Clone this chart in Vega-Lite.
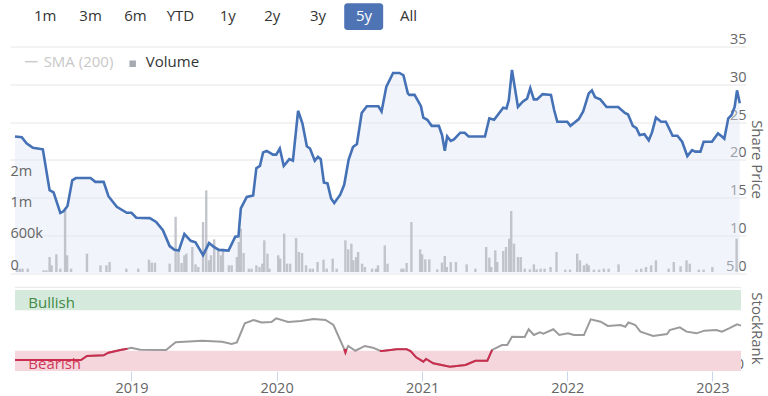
{
  "$schema": "https://vega.github.io/schema/vega-lite/v6.json",
  "width": 736,
  "height": 324.5,
  "autosize": {"type": "none"},
  "padding": {"left": 10, "top": 46.5, "right": 22, "bottom": 25},
  "background": "white",
  "config": {"view": {"stroke": null}, "font": "Open Sans"},
  "datasets": {
    "price": [
      {"d":"2018-03-14","p":23.1},{"d":"2018-03-31","p":23.0},{"d":"2018-04-12","p":22.2},{"d":"2018-04-28","p":21.6},{"d":"2018-05-23","p":21.4},{"d":"2018-06-09","p":16.0},{"d":"2018-06-19","p":15.7},{"d":"2018-07-06","p":13.0},{"d":"2018-07-14","p":13.2},{"d":"2018-07-24","p":13.9},{"d":"2018-08-05","p":17.3},{"d":"2018-08-14","p":17.6},{"d":"2018-09-20","p":17.6},{"d":"2018-10-02","p":17.1},{"d":"2018-10-23","p":17.1},{"d":"2018-11-04","p":15.2},{"d":"2018-11-25","p":13.8},{"d":"2018-12-20","p":13.0},{"d":"2019-01-01","p":13.0},{"d":"2019-01-13","p":12.35},{"d":"2019-02-16","p":12.3},{"d":"2019-03-04","p":11.8},{"d":"2019-03-21","p":10.7},{"d":"2019-04-07","p":8.6},{"d":"2019-04-19","p":8.1},{"d":"2019-04-30","p":8.0},{"d":"2019-05-14","p":10.2},{"d":"2019-05-30","p":9.3},{"d":"2019-06-11","p":9.1},{"d":"2019-06-30","p":7.4},{"d":"2019-07-15","p":9.0},{"d":"2019-07-27","p":8.5},{"d":"2019-08-09","p":8.1},{"d":"2019-09-02","p":8.0},{"d":"2019-09-19","p":9.85},{"d":"2019-09-27","p":9.9},{"d":"2019-10-03","p":13.6},{"d":"2019-10-18","p":15.1},{"d":"2019-11-03","p":15.3},{"d":"2019-11-11","p":18.9},{"d":"2019-11-20","p":19.2},{"d":"2019-11-28","p":21.0},{"d":"2019-12-07","p":21.2},{"d":"2019-12-23","p":20.7},{"d":"2019-12-31","p":20.7},{"d":"2020-01-09","p":21.5},{"d":"2020-01-19","p":19.2},{"d":"2020-02-02","p":20.1},{"d":"2020-02-11","p":19.9},{"d":"2020-02-24","p":26.5},{"d":"2020-03-06","p":24.8},{"d":"2020-03-17","p":21.8},{"d":"2020-03-25","p":21.5},{"d":"2020-04-06","p":19.9},{"d":"2020-04-14","p":20.4},{"d":"2020-04-21","p":20.1},{"d":"2020-04-29","p":17.0},{"d":"2020-05-08","p":16.9},{"d":"2020-05-17","p":14.9},{"d":"2020-05-25","p":14.3},{"d":"2020-06-09","p":15.4},{"d":"2020-06-19","p":16.7},{"d":"2020-06-30","p":20.0},{"d":"2020-07-11","p":21.7},{"d":"2020-07-21","p":22.1},{"d":"2020-08-02","p":26.2},{"d":"2020-08-15","p":27.1},{"d":"2020-09-13","p":27.1},{"d":"2020-09-21","p":26.4},{"d":"2020-10-03","p":29.7},{"d":"2020-10-20","p":31.5},{"d":"2020-11-05","p":31.5},{"d":"2020-11-15","p":31.2},{"d":"2020-11-26","p":28.8},{"d":"2020-11-30","p":28.6},{"d":"2020-12-13","p":28.6},{"d":"2020-12-29","p":27.1},{"d":"2021-01-04","p":25.6},{"d":"2021-01-14","p":25.3},{"d":"2021-01-25","p":24.5},{"d":"2021-02-12","p":24.5},{"d":"2021-02-20","p":23.3},{"d":"2021-02-27","p":21.2},{"d":"2021-03-05","p":23.1},{"d":"2021-03-14","p":22.5},{"d":"2021-03-22","p":22.7},{"d":"2021-04-07","p":23.6},{"d":"2021-04-18","p":23.6},{"d":"2021-04-28","p":23.1},{"d":"2021-06-08","p":23.1},{"d":"2021-06-19","p":25.5},{"d":"2021-07-01","p":25.3},{"d":"2021-07-24","p":26.9},{"d":"2021-08-01","p":26.8},{"d":"2021-08-07","p":27.9},{"d":"2021-08-15","p":31.9},{"d":"2021-08-30","p":27.0},{"d":"2021-09-11","p":27.7},{"d":"2021-09-22","p":28.1},{"d":"2021-09-30","p":29.5},{"d":"2021-10-09","p":28.0},{"d":"2021-10-17","p":28.0},{"d":"2021-10-31","p":28.7},{"d":"2021-11-21","p":28.6},{"d":"2021-11-29","p":26.6},{"d":"2021-12-07","p":25.05},{"d":"2022-01-01","p":25.05},{"d":"2022-01-09","p":24.5},{"d":"2022-01-21","p":25.0},{"d":"2022-01-30","p":25.4},{"d":"2022-02-10","p":26.4},{"d":"2022-02-24","p":28.8},{"d":"2022-03-04","p":29.2},{"d":"2022-03-12","p":28.3},{"d":"2022-03-25","p":28.0},{"d":"2022-04-10","p":27.0},{"d":"2022-05-09","p":27.0},{"d":"2022-05-26","p":26.2},{"d":"2022-06-03","p":26.0},{"d":"2022-06-15","p":24.5},{"d":"2022-06-24","p":24.2},{"d":"2022-07-02","p":23.3},{"d":"2022-07-14","p":23.4},{"d":"2022-07-25","p":22.6},{"d":"2022-08-02","p":23.6},{"d":"2022-08-12","p":25.6},{"d":"2022-08-25","p":25.05},{"d":"2022-09-06","p":25.05},{"d":"2022-09-23","p":23.2},{"d":"2022-10-05","p":23.2},{"d":"2022-10-17","p":22.4},{"d":"2022-10-30","p":20.5},{"d":"2022-11-11","p":21.3},{"d":"2022-11-19","p":21.1},{"d":"2022-12-02","p":21.1},{"d":"2022-12-10","p":22.4},{"d":"2022-12-31","p":22.4},{"d":"2023-01-15","p":23.5},{"d":"2023-01-25","p":23.1},{"d":"2023-01-31","p":22.8},{"d":"2023-02-10","p":25.5},{"d":"2023-02-18","p":25.9},{"d":"2023-02-26","p":27.0},{"d":"2023-03-04","p":29.2},{"d":"2023-03-11","p":27.5}
    ],
    "volume": [
      {"d":"2018-03-19","v":64000},{"d":"2018-03-26","v":64000},{"d":"2018-04-02","v":64000},{"d":"2018-04-15","v":64000},{"d":"2018-05-25","v":32000},{"d":"2018-06-01","v":32000},{"d":"2018-06-09","v":288000},{"d":"2018-06-14","v":128000},{"d":"2018-06-26","v":339000},{"d":"2018-07-06","v":64000},{"d":"2018-07-18","v":1195000},{"d":"2018-07-23","v":320000},{"d":"2018-08-02","v":64000},{"d":"2018-09-11","v":351000},{"d":"2018-10-15","v":128000},{"d":"2018-10-30","v":128000},{"d":"2018-11-07","v":192000},{"d":"2018-12-19","v":64000},{"d":"2019-01-18","v":64000},{"d":"2019-02-14","v":236000},{"d":"2019-02-21","v":179000},{"d":"2019-03-01","v":179000},{"d":"2019-04-07","v":160000},{"d":"2019-04-22","v":1060000},{"d":"2019-04-29","v":383000},{"d":"2019-05-07","v":173000},{"d":"2019-05-14","v":320000},{"d":"2019-05-19","v":351000},{"d":"2019-06-03","v":479000},{"d":"2019-06-11","v":147000},{"d":"2019-06-18","v":96000},{"d":"2019-06-30","v":959000},{"d":"2019-07-08","v":1566000},{"d":"2019-07-15","v":224000},{"d":"2019-07-20","v":320000},{"d":"2019-07-28","v":626000},{"d":"2019-08-07","v":415000},{"d":"2019-08-14","v":320000},{"d":"2019-08-19","v":447000},{"d":"2019-09-03","v":128000},{"d":"2019-09-10","v":128000},{"d":"2019-09-23","v":288000},{"d":"2019-09-28","v":575000},{"d":"2019-10-03","v":831000},{"d":"2019-10-10","v":364000},{"d":"2019-10-23","v":64000},{"d":"2019-10-30","v":64000},{"d":"2019-11-11","v":128000},{"d":"2019-11-19","v":96000},{"d":"2019-11-26","v":160000},{"d":"2019-12-01","v":607000},{"d":"2019-12-09","v":351000},{"d":"2019-12-14","v":64000},{"d":"2020-01-05","v":320000},{"d":"2020-01-10","v":256000},{"d":"2020-01-20","v":735000},{"d":"2020-01-27","v":160000},{"d":"2020-02-04","v":160000},{"d":"2020-02-19","v":652000},{"d":"2020-02-26","v":383000},{"d":"2020-03-05","v":364000},{"d":"2020-03-15","v":128000},{"d":"2020-03-25","v":64000},{"d":"2020-04-01","v":64000},{"d":"2020-04-13","v":192000},{"d":"2020-04-28","v":236000},{"d":"2020-05-06","v":64000},{"d":"2020-05-21","v":256000},{"d":"2020-05-31","v":64000},{"d":"2020-06-22","v":607000},{"d":"2020-06-29","v":435000},{"d":"2020-07-07","v":543000},{"d":"2020-07-12","v":224000},{"d":"2020-07-19","v":288000},{"d":"2020-07-24","v":383000},{"d":"2020-08-03","v":160000},{"d":"2020-08-10","v":96000},{"d":"2020-08-28","v":64000},{"d":"2020-09-07","v":64000},{"d":"2020-09-12","v":128000},{"d":"2020-09-29","v":511000},{"d":"2020-10-06","v":160000},{"d":"2020-11-10","v":64000},{"d":"2020-11-15","v":64000},{"d":"2020-11-23","v":173000},{"d":"2020-12-05","v":959000},{"d":"2020-12-27","v":435000},{"d":"2021-01-01","v":339000},{"d":"2021-01-09","v":243000},{"d":"2021-01-19","v":243000},{"d":"2021-02-08","v":51000},{"d":"2021-02-20","v":179000},{"d":"2021-02-27","v":307000},{"d":"2021-03-04","v":96000},{"d":"2021-03-14","v":192000},{"d":"2021-03-27","v":192000},{"d":"2021-04-23","v":147000},{"d":"2021-05-15","v":64000},{"d":"2021-06-11","v":479000},{"d":"2021-06-19","v":275000},{"d":"2021-06-24","v":96000},{"d":"2021-07-04","v":415000},{"d":"2021-07-09","v":192000},{"d":"2021-07-24","v":403000},{"d":"2021-07-31","v":479000},{"d":"2021-08-08","v":639000},{"d":"2021-08-13","v":1169000},{"d":"2021-08-20","v":543000},{"d":"2021-08-30","v":288000},{"d":"2021-09-06","v":288000},{"d":"2021-09-16","v":64000},{"d":"2021-09-29","v":51000},{"d":"2021-10-09","v":147000},{"d":"2021-10-16","v":51000},{"d":"2021-10-26","v":64000},{"d":"2021-11-05","v":64000},{"d":"2021-11-20","v":96000},{"d":"2021-12-05","v":383000},{"d":"2021-12-27","v":45000},{"d":"2022-01-08","v":45000},{"d":"2022-01-26","v":351000},{"d":"2022-02-02","v":224000},{"d":"2022-02-12","v":128000},{"d":"2022-02-19","v":160000},{"d":"2022-02-24","v":128000},{"d":"2022-03-09","v":45000},{"d":"2022-03-22","v":45000},{"d":"2022-04-03","v":64000},{"d":"2022-04-15","v":64000},{"d":"2022-05-10","v":147000},{"d":"2022-06-24","v":45000},{"d":"2022-07-06","v":64000},{"d":"2022-07-18","v":96000},{"d":"2022-07-31","v":128000},{"d":"2022-08-12","v":224000},{"d":"2022-09-13","v":64000},{"d":"2022-09-26","v":192000},{"d":"2022-10-13","v":109000},{"d":"2022-10-28","v":224000},{"d":"2022-11-05","v":160000},{"d":"2022-11-28","v":45000},{"d":"2022-12-10","v":45000},{"d":"2023-01-01","v":96000},{"d":"2023-03-03","v":639000}
    ],
    "rank": [
      {"d":"2018-03-14","r":13.6,"run":"a"},{"d":"2018-08-27","r":13.6,"run":"a"},{"d":"2018-09-11","r":18.5,"run":"a"},{"d":"2018-10-23","r":19.3,"run":"a"},{"d":"2018-11-04","r":22.6,"run":"a"},{"d":"2018-12-04","r":26,"run":"a"},{"d":"2018-12-22","r":27.5,"run":"a"},{"d":"2018-12-31","r":28.8},{"d":"2019-01-23","r":26.3},{"d":"2019-03-29","r":26},{"d":"2019-04-22","r":35.4},{"d":"2019-06-28","r":37.4},{"d":"2019-08-17","r":36.2},{"d":"2019-09-10","r":33.3},{"d":"2019-09-23","r":35.4},{"d":"2019-10-13","r":58.9},{"d":"2019-11-04","r":63},{"d":"2019-11-24","r":60},{"d":"2019-12-19","r":60.5},{"d":"2019-12-31","r":65},{"d":"2020-01-30","r":60.5},{"d":"2020-03-02","r":61.7},{"d":"2020-04-03","r":64.2},{"d":"2020-05-03","r":63},{"d":"2020-05-23","r":56.8},{"d":"2020-06-19","r":27,"run":"b"},{"d":"2020-06-22","r":22.6,"run":"b"},{"d":"2020-06-25","r":27,"run":"b"},{"d":"2020-06-29","r":30.9},{"d":"2020-07-17","r":25},{"d":"2020-08-10","r":30.9},{"d":"2020-08-30","r":28.8},{"d":"2020-09-17","r":25,"run":"c"},{"d":"2020-09-22","r":24.7,"run":"c"},{"d":"2020-10-29","r":26.7,"run":"c"},{"d":"2020-11-23","r":26.7,"run":"c"},{"d":"2020-12-03","r":24.7,"run":"c"},{"d":"2020-12-17","r":16.9,"run":"c"},{"d":"2021-01-04","r":11.5,"run":"c"},{"d":"2021-01-11","r":14.8,"run":"c"},{"d":"2021-01-29","r":9.5,"run":"c"},{"d":"2021-03-12","r":5.3,"run":"c"},{"d":"2021-04-20","r":7.4,"run":"c"},{"d":"2021-05-15","r":12.7,"run":"c"},{"d":"2021-06-14","r":12.7,"run":"c"},{"d":"2021-06-26","r":26,"run":"c"},{"d":"2021-07-21","r":32},{"d":"2021-08-03","r":32},{"d":"2021-08-15","r":42.4},{"d":"2021-09-16","r":41.9},{"d":"2021-09-26","r":51.5},{"d":"2021-10-09","r":44.4},{"d":"2021-10-24","r":47.7},{"d":"2021-11-02","r":46},{"d":"2021-11-27","r":51.5},{"d":"2021-12-12","r":44.4},{"d":"2022-01-03","r":46.5},{"d":"2022-01-18","r":44.4},{"d":"2022-02-12","r":44.4},{"d":"2022-03-01","r":63.8},{"d":"2022-03-26","r":60.9},{"d":"2022-04-13","r":55.6},{"d":"2022-05-15","r":56.8},{"d":"2022-05-27","r":54.7},{"d":"2022-06-04","r":60},{"d":"2022-06-21","r":56.8},{"d":"2022-07-04","r":48.6},{"d":"2022-08-05","r":43.2},{"d":"2022-09-09","r":45.7},{"d":"2022-09-16","r":50.6},{"d":"2022-10-11","r":53.9},{"d":"2022-10-28","r":48.6},{"d":"2022-11-22","r":46.5},{"d":"2022-12-12","r":49.8},{"d":"2023-01-11","r":50.6},{"d":"2023-01-25","r":48.6},{"d":"2023-02-12","r":52.7},{"d":"2023-03-04","r":57.6},{"d":"2023-03-14","r":56}
    ],
    "bands": [
      {"zone":"Bullish","lo":75,"hi":100},
      {"zone":"Bearish","lo":0,"hi":25}
    ]
  },
  "layer": [
    {
      "data": {"name": "price"},
      "mark": {"type": "area", "color": "#dfe6f5", "opacity": 0.45},
      "encoding": {
        "x": {"field": "d", "type": "temporal",
          "scale": {"type": "utc", "domain": [{"year":2018,"month":3,"date":14,"utc":true},{"year":2023,"month":3,"date":14,"utc":true}]},
          "axis": {"title": null, "values": [{"year":2019,"utc":true},{"year":2020,"utc":true},{"year":2021,"utc":true},{"year":2022,"utc":true},{"year":2023,"utc":true}], "format": "%Y", "domain": false, "grid": false, "ticks": true, "tickSize": 10, "tickColor": "#ccd6eb", "labelFont": "Open Sans", "labelFontSize": 14.5, "labelColor": "#666666", "labelPadding": 0.5, "labelFlush": false, "labelOverlap": false}},
        "y": {"field": "p", "type": "quantitative", "scale": {"domain": [-7.923, 35], "nice": false, "zero": false}, "axis": null},
        "y2": {"datum": 5}
      }
    },
    {
      "data": {"name": "volume"},
      "mark": {"type": "bar", "color": "#b9bbc3", "opacity": 0.85, "size": 2.4},
      "encoding": {
        "x": {"field": "d", "type": "temporal", "scale": {"type": "utc", "domain": [{"year":2018,"month":3,"date":14,"utc":true},{"year":2023,"month":3,"date":14,"utc":true}]}},
        "y": {"field": "v", "type": "quantitative", "scale": {"domain": [-1897830, 4322835], "nice": false, "zero": false},
          "axis": {"orient": "left", "offset": 0, "zindex": 1, "values": [0, 600000, 1200000, 1800000], "labelExpr": "datum.value == 0 ? '0' : datum.value == 600000 ? '600k' : datum.value == 1200000 ? '1m' : '2m'", "grid": false, "domain": false, "ticks": false, "labelAlign": "left", "labelBaseline": "bottom", "labelPadding": 0, "labelFont": "Open Sans", "labelFontSize": 14.5, "labelColor": "#666666", "labelFlush": false, "labelOverlap": false, "labelBound": false, "title": null}},
        "y2": {"datum": 0}
      }
    },
    {
      "layer": [
        {
          "data": {"name": "price"},
          "mark": {"type": "line", "color": "#4572b6", "strokeWidth": 2.6},
          "encoding": {
            "x": {"field": "d", "type": "temporal", "scale": {"type": "utc", "domain": [{"year":2018,"month":3,"date":14,"utc":true},{"year":2023,"month":3,"date":14,"utc":true}]}},
            "y": {"field": "p", "type": "quantitative", "scale": {"domain": [-7.923, 35], "nice": false, "zero": false},
              "axis": {"orient": "right", "offset": 0, "values": [5, 10, 15, 20, 25, 30, 35], "labelExpr": "datum.value == 5 ? '5.0' : datum.label", "grid": true, "gridColor": "#e6e6e6", "gridWidth": 1, "domain": false, "ticks": false, "labelAlign": "right", "labelBaseline": "bottom", "labelPadding": 0, "labelFont": "Open Sans", "labelFontSize": 14.5, "labelColor": "#666666", "labelFlush": false, "labelOverlap": false, "labelBound": false,
                "title": "Share Price", "titleFont": "Open Sans", "titleFontSize": 15, "titleFontWeight": "normal", "titleColor": "#666666", "titleAngle": 90, "titleAlign": "center", "titleBaseline": "middle", "titleX": 10, "titleY": 112.5}}
          }
        },
        {
          "data": {"values": [{}]},
          "mark": {"type": "rect", "color": "#4f74b6", "cornerRadius": 3},
          "encoding": {
            "x": {"datum": {"year":2020,"month":6,"date":19,"utc":true}, "type": "temporal", "scale": {"type": "utc", "domain": [{"year":2018,"month":3,"date":14,"utc":true},{"year":2023,"month":3,"date":14,"utc":true}]}},
            "x2": {"datum": {"year":2020,"month":9,"date":25,"utc":true}},
            "y": {"datum": 40.71, "type": "quantitative", "scale": {"domain": [-7.923, 35], "nice": false, "zero": false}},
            "y2": {"datum": 37.18}
          }
        },
        {
          "data": {"values": [{}]},
          "mark": {"type": "text", "fontSize": 15, "color": "#333333", "align": "center", "baseline": "middle"},
          "encoding": {"x": {"datum": {"year":2018,"month":5,"date":29,"utc":true}, "type": "temporal", "scale": {"type": "utc", "domain": [{"year":2018,"month":3,"date":14,"utc":true},{"year":2023,"month":3,"date":14,"utc":true}]}}, "y": {"datum": 39.07, "type": "quantitative", "scale": {"domain": [-7.923, 35], "nice": false, "zero": false}}, "text": {"value": "1m"}}
        },
        {
          "data": {"values": [{}]},
          "mark": {"type": "text", "fontSize": 15, "color": "#333333", "align": "center", "baseline": "middle"},
          "encoding": {"x": {"datum": {"year":2018,"month":9,"date":20,"utc":true}, "type": "temporal", "scale": {"type": "utc", "domain": [{"year":2018,"month":3,"date":14,"utc":true},{"year":2023,"month":3,"date":14,"utc":true}]}}, "y": {"datum": 39.07, "type": "quantitative", "scale": {"domain": [-7.923, 35], "nice": false, "zero": false}}, "text": {"value": "3m"}}
        },
        {
          "data": {"values": [{}]},
          "mark": {"type": "text", "fontSize": 15, "color": "#333333", "align": "center", "baseline": "middle"},
          "encoding": {"x": {"datum": {"year":2019,"month":1,"date":11,"utc":true}, "type": "temporal", "scale": {"type": "utc", "domain": [{"year":2018,"month":3,"date":14,"utc":true},{"year":2023,"month":3,"date":14,"utc":true}]}}, "y": {"datum": 39.07, "type": "quantitative", "scale": {"domain": [-7.923, 35], "nice": false, "zero": false}}, "text": {"value": "6m"}}
        },
        {
          "data": {"values": [{}]},
          "mark": {"type": "text", "fontSize": 15, "color": "#333333", "align": "center", "baseline": "middle"},
          "encoding": {"x": {"datum": {"year":2019,"month":5,"date":4,"utc":true}, "type": "temporal", "scale": {"type": "utc", "domain": [{"year":2018,"month":3,"date":14,"utc":true},{"year":2023,"month":3,"date":14,"utc":true}]}}, "y": {"datum": 39.07, "type": "quantitative", "scale": {"domain": [-7.923, 35], "nice": false, "zero": false}}, "text": {"value": "YTD"}}
        },
        {
          "data": {"values": [{}]},
          "mark": {"type": "text", "fontSize": 15, "color": "#333333", "align": "center", "baseline": "middle"},
          "encoding": {"x": {"datum": {"year":2019,"month":8,"date":31,"utc":true}, "type": "temporal", "scale": {"type": "utc", "domain": [{"year":2018,"month":3,"date":14,"utc":true},{"year":2023,"month":3,"date":14,"utc":true}]}}, "y": {"datum": 39.07, "type": "quantitative", "scale": {"domain": [-7.923, 35], "nice": false, "zero": false}}, "text": {"value": "1y"}}
        },
        {
          "data": {"values": [{}]},
          "mark": {"type": "text", "fontSize": 15, "color": "#333333", "align": "center", "baseline": "middle"},
          "encoding": {"x": {"datum": {"year":2019,"month":12,"date":21,"utc":true}, "type": "temporal", "scale": {"type": "utc", "domain": [{"year":2018,"month":3,"date":14,"utc":true},{"year":2023,"month":3,"date":14,"utc":true}]}}, "y": {"datum": 39.07, "type": "quantitative", "scale": {"domain": [-7.923, 35], "nice": false, "zero": false}}, "text": {"value": "2y"}}
        },
        {
          "data": {"values": [{}]},
          "mark": {"type": "text", "fontSize": 15, "color": "#333333", "align": "center", "baseline": "middle"},
          "encoding": {"x": {"datum": {"year":2020,"month":4,"date":14,"utc":true}, "type": "temporal", "scale": {"type": "utc", "domain": [{"year":2018,"month":3,"date":14,"utc":true},{"year":2023,"month":3,"date":14,"utc":true}]}}, "y": {"datum": 39.07, "type": "quantitative", "scale": {"domain": [-7.923, 35], "nice": false, "zero": false}}, "text": {"value": "3y"}}
        },
        {
          "data": {"values": [{}]},
          "mark": {"type": "text", "fontSize": 15, "color": "#ffffff", "align": "center", "baseline": "middle"},
          "encoding": {"x": {"datum": {"year":2020,"month":8,"date":8,"utc":true}, "type": "temporal", "scale": {"type": "utc", "domain": [{"year":2018,"month":3,"date":14,"utc":true},{"year":2023,"month":3,"date":14,"utc":true}]}}, "y": {"datum": 39.07, "type": "quantitative", "scale": {"domain": [-7.923, 35], "nice": false, "zero": false}}, "text": {"value": "5y"}}
        },
        {
          "data": {"values": [{}]},
          "mark": {"type": "text", "fontSize": 15, "color": "#333333", "align": "center", "baseline": "middle"},
          "encoding": {"x": {"datum": {"year":2020,"month":11,"date":28,"utc":true}, "type": "temporal", "scale": {"type": "utc", "domain": [{"year":2018,"month":3,"date":14,"utc":true},{"year":2023,"month":3,"date":14,"utc":true}]}}, "y": {"datum": 39.07, "type": "quantitative", "scale": {"domain": [-7.923, 35], "nice": false, "zero": false}}, "text": {"value": "All"}}
        },
        {
          "data": {"values": [{}]},
          "mark": {"type": "rule", "color": "#cccccc", "strokeWidth": 1.5},
          "encoding": {
            "x": {"datum": {"year":2018,"month":4,"date":8,"utc":true}, "type": "temporal", "scale": {"type": "utc", "domain": [{"year":2018,"month":3,"date":14,"utc":true},{"year":2023,"month":3,"date":14,"utc":true}]}},
            "x2": {"datum": {"year":2018,"month":5,"date":10,"utc":true}},
            "y": {"datum": 32.99, "type": "quantitative", "scale": {"domain": [-7.923, 35], "nice": false, "zero": false}}
          }
        },
        {
          "data": {"values": [{}]},
          "mark": {"type": "text", "fontSize": 15, "color": "#c8c8c8", "align": "left", "baseline": "middle"},
          "encoding": {"x": {"datum": {"year":2018,"month":5,"date":25,"utc":true}, "type": "temporal", "scale": {"type": "utc", "domain": [{"year":2018,"month":3,"date":14,"utc":true},{"year":2023,"month":3,"date":14,"utc":true}]}}, "y": {"datum": 32.99, "type": "quantitative", "scale": {"domain": [-7.923, 35], "nice": false, "zero": false}}, "text": {"value": "SMA (200)"}}
        },
        {
          "data": {"values": [{}]},
          "mark": {"type": "point", "shape": "square", "filled": true, "size": 42, "color": "#a8aab2", "opacity": 1},
          "encoding": {"x": {"datum": {"year":2019,"month":1,"date":4,"utc":true}, "type": "temporal", "scale": {"type": "utc", "domain": [{"year":2018,"month":3,"date":14,"utc":true},{"year":2023,"month":3,"date":14,"utc":true}]}}, "y": {"datum": 32.72, "type": "quantitative", "scale": {"domain": [-7.923, 35], "nice": false, "zero": false}}}
        },
        {
          "data": {"values": [{}]},
          "mark": {"type": "text", "fontSize": 15, "color": "#333333", "align": "left", "baseline": "middle"},
          "encoding": {"x": {"datum": {"year":2019,"month":2,"date":6,"utc":true}, "type": "temporal", "scale": {"type": "utc", "domain": [{"year":2018,"month":3,"date":14,"utc":true},{"year":2023,"month":3,"date":14,"utc":true}]}}, "y": {"datum": 32.99, "type": "quantitative", "scale": {"domain": [-7.923, 35], "nice": false, "zero": false}}, "text": {"value": "Volume"}}
        }
      ]
    },
    {
      "layer": [
        {
          "data": {"name": "bands"},
          "mark": {"type": "rect"},
          "encoding": {
            "x": {"datum": {"year":2018,"month":3,"date":14,"utc":true}, "type": "temporal", "scale": {"type": "utc", "domain": [{"year":2018,"month":3,"date":14,"utc":true},{"year":2023,"month":3,"date":14,"utc":true}]}},
            "x2": {"datum": {"year":2023,"month":3,"date":14,"utc":true}},
            "y": {"field": "lo", "type": "quantitative", "scale": {"domain": [0, 400.6], "nice": false, "zero": false},
              "axis": {"orient": "right", "offset": 0, "values": [0], "grid": false, "domain": false, "ticks": false, "labelAlign": "right", "labelBaseline": "bottom", "labelPadding": -2.5, "labelFont": "Open Sans", "labelFontSize": 14.5, "labelColor": "#666666", "labelFlush": false, "labelBound": false,
                "title": "StockRank", "titleFont": "Open Sans", "titleFontSize": 15, "titleFontWeight": "normal", "titleColor": "#666666", "titleAngle": 90, "titleAlign": "center", "titleBaseline": "middle", "titleX": 10, "titleY": 281.5}},
            "y2": {"field": "hi"},
            "fill": {"field": "zone", "type": "nominal", "scale": {"domain": ["Bullish", "Bearish"], "range": ["#d6e9dd", "#f4d6dc"]}, "legend": null}
          }
        },
        {
          "data": {"name": "bands"},
          "mark": {"type": "text", "fontSize": 15, "align": "left", "baseline": "top", "dx": 13.3, "dy": 6.5},
          "encoding": {
            "x": {"datum": {"year":2018,"month":3,"date":14,"utc":true}, "type": "temporal", "scale": {"type": "utc", "domain": [{"year":2018,"month":3,"date":14,"utc":true},{"year":2023,"month":3,"date":14,"utc":true}]}},
            "y": {"field": "hi", "type": "quantitative", "scale": {"domain": [0, 400.6], "nice": false, "zero": false}},
            "text": {"field": "zone"},
            "color": {"field": "zone", "type": "nominal", "scale": {"domain": ["Bullish", "Bearish"], "range": ["#3e8a44", "#d13a5a"]}, "legend": null}
          }
        },
        {
          "data": {"values": [{}]},
          "mark": {"type": "rule", "color": "#e6e6e6", "strokeWidth": 1},
          "encoding": {
            "x": {"datum": {"year":2018,"month":3,"date":14,"utc":true}, "type": "temporal", "scale": {"type": "utc", "domain": [{"year":2018,"month":3,"date":14,"utc":true},{"year":2023,"month":3,"date":14,"utc":true}]}},
            "x2": {"datum": {"year":2023,"month":3,"date":14,"utc":true}},
            "y": {"datum": 103.3, "type": "quantitative", "scale": {"domain": [0, 400.6], "nice": false, "zero": false}}
          }
        },
        {
          "data": {"name": "rank"},
          "mark": {"type": "line", "color": "#9b9b9b", "strokeWidth": 2},
          "encoding": {
            "x": {"field": "d", "type": "temporal", "scale": {"type": "utc", "domain": [{"year":2018,"month":3,"date":14,"utc":true},{"year":2023,"month":3,"date":14,"utc":true}]}},
            "y": {"field": "r", "type": "quantitative", "scale": {"domain": [0, 400.6], "nice": false, "zero": false}}
          }
        },
        {
          "data": {"name": "rank"},
          "transform": [{"filter": "isValid(datum.run)"}],
          "mark": {"type": "line", "color": "#cc2d4e", "strokeWidth": 2},
          "encoding": {
            "x": {"field": "d", "type": "temporal", "scale": {"type": "utc", "domain": [{"year":2018,"month":3,"date":14,"utc":true},{"year":2023,"month":3,"date":14,"utc":true}]}},
            "y": {"field": "r", "type": "quantitative", "scale": {"domain": [0, 400.6], "nice": false, "zero": false}},
            "detail": {"field": "run", "type": "nominal"}
          }
        }
      ]
    }
  ],
  "resolve": {"scale": {"y": "independent"}, "axis": {"y": "independent"}}
}
